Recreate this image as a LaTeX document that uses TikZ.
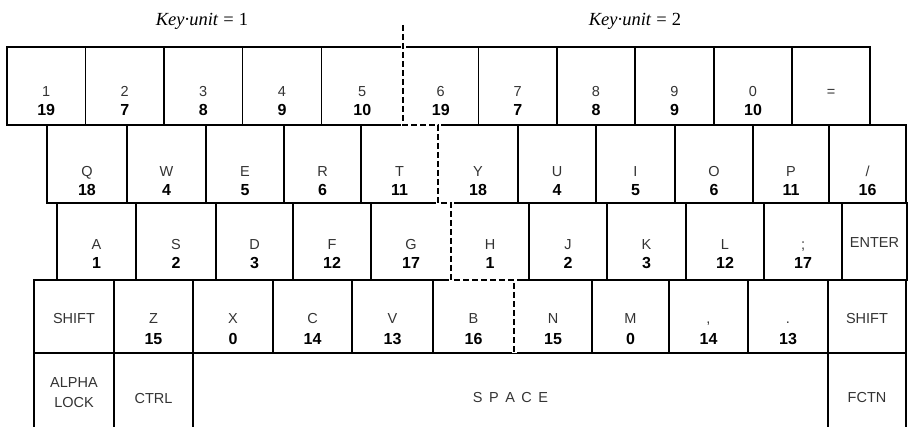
\documentclass[tikz,border=0pt]{standalone}
\usepackage{fontspec}
\setmainfont{Liberation Serif}
\setsansfont{Liberation Sans}
\usetikzlibrary{calc}
\tikzset{
 keybox/.style={draw, line width=1.4pt, rectangle, inner sep=0pt, outer sep=0pt, anchor=north west},
 keylbl/.style={font=\sffamily\fontsize{14.5}{14.5}\selectfont, text=black!80, inner sep=0pt, anchor=base},
 keynum/.style={font=\sffamily\bfseries\fontsize{16}{16}\selectfont, inner sep=0pt, anchor=base},
 unitlbl/.style={font=\fontsize{18.5}{18.5}\selectfont, inner sep=0pt, anchor=base},
 splitline/.style={line width=2.8pt, dash pattern=on 6pt off 3pt},
 splitgap/.style={line width=5pt, white},
}
% name, x1, x2, label, number
\newcommand\kbkey[5]{%
  \pgfmathsetmacro\kbw{#3-#2}%
  \node[keybox, minimum width=\kbw pt, minimum height=\kbh pt] (#1) at (#2,\kbt) {};
  \node[keylbl] (#1-l) at ($(#1.north)+(0,\kbl)$) {#4};
  \node[keynum] (#1-n) at ($(#1.north)+(0,\kbn)$) {#5};
}
% name, x1, x2, label (single line), baseline offset
\newcommand\kbone[5]{%
  \pgfmathsetmacro\kbw{#3-#2}%
  \node[keybox, minimum width=\kbw pt, minimum height=\kbh pt] (#1) at (#2,\kbt) {};
  \node[keylbl] (#1-l) at ($(#1.north)+(0,#5)$) {#4};
}
\begin{document}
\begin{tikzpicture}[x=1pt,y=-1pt]
\useasboundingbox (0,0) rectangle (909,427);
\clip (0,0) rectangle (909,427);

\node[unitlbl] (unit1) at (202,25.5) {\textit{Key·unit}\hspace{5pt}=\hspace{5pt}1};
\node[unitlbl] (unit2) at (635,25.5) {\textit{Key·unit}\hspace{5pt}=\hspace{5pt}2};

% row 1
\def\kbt{47}\def\kbh{78}\def\kbl{50}\def\kbn{69}
\kbkey{k1}{7}{85.5}{1}{19}
\kbkey{k2}{85.5}{164}{2}{7}
\kbkey{k3}{164}{242.5}{3}{8}
\kbkey{k4}{242.5}{321.5}{4}{9}
\kbkey{k5}{321.5}{403}{5}{10}
\kbkey{k6}{403}{478.5}{6}{19}
\kbkey{k7}{478.5}{557}{7}{7}
\kbkey{k8}{557}{635}{8}{8}
\kbkey{k9}{635}{714}{9}{9}
\kbkey{k0}{714}{792}{0}{10}
\kbone{keq}{792}{870}{=}{50}

% row 2
\def\kbt{125}\def\kbh{78}\def\kbl{52}\def\kbn{71}
\kbkey{kq}{47}{127}{Q}{18}
\kbkey{kw}{127}{206}{W}{4}
\kbkey{ke}{206}{284}{E}{5}
\kbkey{kr}{284}{361}{R}{6}
\kbkey{kt}{361}{438}{T}{11}
\kbkey{ky}{438}{518}{Y}{18}
\kbkey{ku}{518}{596}{U}{4}
\kbkey{ki}{596}{675}{I}{5}
\kbkey{ko}{675}{753}{O}{6}
\kbkey{kp}{753}{829}{P}{11}
\kbkey{kslash}{829}{906}{/}{16}

% row 3
\def\kbt{203}\def\kbh{77}\def\kbl{47}\def\kbn{66}
\kbkey{ka}{57}{136}{A}{1}
\kbkey{ks}{136}{216}{S}{2}
\kbkey{kd}{216}{293}{D}{3}
\kbkey{kf}{293}{371}{F}{12}
\kbkey{kg}{371}{451}{G}{17}
\kbkey{kh}{451}{529}{H}{1}
\kbkey{kj}{529}{607}{J}{2}
\kbkey{kk}{607}{686}{K}{3}
\kbkey{kl}{686}{764}{L}{12}
\kbkey{ksemi}{764}{842}{;}{17}
\kbone{kenter}{842}{907}{ENTER}{45}

% row 4
\def\kbt{280}\def\kbh{73}\def\kbl{43}\def\kbn{64}
\kbone{klshift}{34}{114}{SHIFT}{43}
\kbkey{kz}{114}{193}{Z}{15}
\kbkey{kx}{193}{273}{X}{0}
\kbkey{kc}{273}{352}{C}{14}
\kbkey{kv}{352}{433}{V}{13}
\kbkey{kb}{433}{514}{B}{16}
\kbkey{kn}{514}{592}{N}{15}
\kbkey{km}{592}{669}{M}{0}
\kbkey{kcomma}{669}{748}{,}{14}
\kbkey{kperiod}{748}{828}{.}{13}
\kbone{krshift}{828}{906}{SHIFT}{43}

% row 5
\def\kbt{353}\def\kbh{90}
\kbone{kalpha}{34}{114}{ALPHA}{34}
\node[keylbl] (kalpha-l2) at ($(kalpha.north)+(0,54)$) {LOCK};
\kbone{kctrl}{114}{193}{CTRL}{50}
\kbone{kspace}{193}{828}{S\hspace{6.5pt}P\hspace{6.5pt}A\hspace{6.5pt}C\hspace{6.5pt}E}{49}
\kbone{kfctn}{828}{906}{FCTN}{49}

% split line between key units
\coordinate (splittop) at (403,25);
\draw[splitgap] (splittop) -- (k6.south west) -- (ky.north west) -- (ky.south west)
  -- (kh.north west) -- (kh.south west) -- (kb.north east) -- (kb.south east);
\draw[splitline] (splittop) -- (k6.south west) -- (ky.north west) -- (ky.south west)
  -- (kh.north west) -- (kh.south west) -- (kb.north east) -- (kb.south east);
\end{tikzpicture}
\end{document}
